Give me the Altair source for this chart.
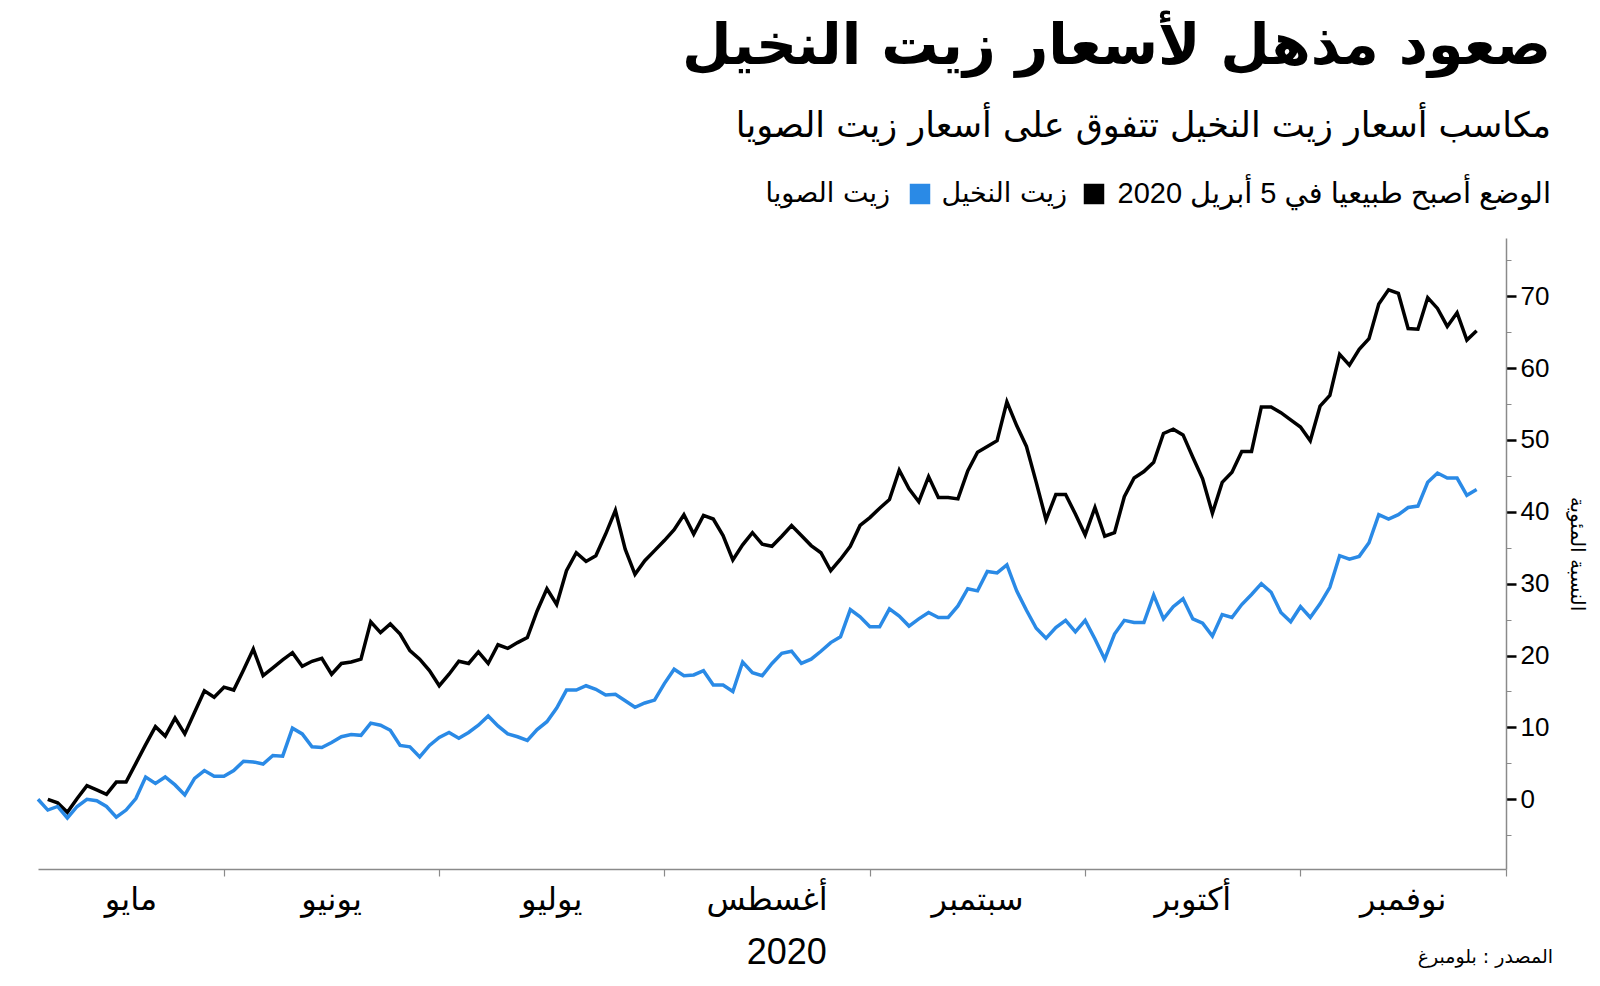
import altair as alt
import pandas as pd

# ---------------- data ----------------
# cumulative % change, one value per trading day; palm oil starts one day after soy oil
palm_start = 1
palm = [0.0, -0.5, -1.8, 0.1, 1.9, 1.3, 0.7, 2.4, 2.4, 5.0,
        7.6, 10.1, 8.8, 11.3, 9.1, 12.1, 15.1, 14.2, 15.6, 15.2,
        18.0, 20.9, 17.2, 18.3, 19.4, 20.4, 18.5, 19.2, 19.6, 17.4,
        18.9, 19.1, 19.5, 24.7, 23.2, 24.4, 23.0, 20.7, 19.5, 17.9,
        15.8, 17.4, 19.2, 18.9, 20.5, 18.9, 21.5, 21.0, 21.8, 22.5,
        26.2, 29.3, 27.1, 31.8, 34.3, 33.1, 33.9, 36.9, 40.2, 34.8,
        31.3, 33.2, 34.6, 36.0, 37.5, 39.6, 36.9, 39.5, 39.0, 36.7,
        33.3, 35.4, 37.1, 35.5, 35.2, 36.6, 38.1, 36.7, 35.3, 34.3,
        31.8, 33.4, 35.2, 38.1, 39.2, 40.5, 41.7, 45.8, 43.2, 41.4,
        44.9, 42.0, 42.0, 41.8, 45.7, 48.3, 49.1, 49.9, 55.3, 52.0,
        49.1, 44.1, 38.9, 42.4, 42.4, 39.7, 36.8, 40.6, 36.6, 37.1,
        42.1, 44.7, 45.6, 46.9, 50.9, 51.5, 50.7, 47.6, 44.6, 39.8,
        44.1, 45.5, 48.4, 48.4, 54.6, 54.6, 53.8, 52.8, 51.8, 49.9,
        54.7, 56.2, 61.9, 60.4, 62.6, 64.1, 68.9, 70.9, 70.4, 65.5,
        65.4, 69.8, 68.3, 65.8, 67.7, 63.9, 65.2]

soy_start = 0
soy = [0.0, -1.5, -1.0, -2.6, -1.0, 0.0, -0.2, -1.0, -2.5, -1.5,
       0.1, 3.1, 2.2, 3.1, 2.0, 0.6, 2.9, 4.0, 3.2, 3.2,
       4.0, 5.3, 5.2, 4.9, 6.1, 6.0, 9.9, 9.1, 7.3, 7.2,
       7.9, 8.7, 9.0, 8.9, 10.6, 10.3, 9.6, 7.5, 7.3, 5.9,
       7.5, 8.6, 9.3, 8.5, 9.3, 10.3, 11.6, 10.2, 9.1, 8.7,
       8.2, 9.7, 10.8, 12.7, 15.2, 15.2, 15.8, 15.3, 14.5, 14.6,
       13.7, 12.8, 13.4, 13.8, 16.1, 18.1, 17.2, 17.3, 17.9, 15.9,
       15.9, 15.0, 19.1, 17.6, 17.2, 18.9, 20.3, 20.6, 18.9, 19.5,
       20.6, 21.8, 22.6, 26.4, 25.4, 24.0, 24.0, 26.5, 25.5, 24.1,
       25.1, 26.0, 25.3, 25.3, 26.9, 29.3, 29.0, 31.7, 31.5, 32.6,
       29.0, 26.3, 23.8, 22.4, 23.9, 24.9, 23.3, 24.9, 22.3, 19.5,
       23.0, 24.9, 24.6, 24.6, 28.4, 25.1, 26.8, 27.9, 25.1, 24.5,
       22.7, 25.7, 25.3, 27.1, 28.5, 30.0, 28.8, 26.0, 24.7, 26.8,
       25.3, 27.2, 29.5, 33.9, 33.4, 33.8, 35.7, 39.6, 39.0, 39.6,
       40.6, 40.8, 44.1, 45.4, 44.7, 44.7, 42.3, 43.1]

series_names = ["زيت النخيل", "زيت الصويا"]
series_colors = ["#000000", "#2a8ae6"]

# month boundaries / label centres in trading-day index
month_bounds = [19, 41, 64, 85, 107, 129, 150]
month_names = ["مايو", "يونيو", "يوليو", "أغسطس", "سبتمبر", "أكتوبر", "نوفمبر"]
month_centers = [9.5, 30, 52.5, 74.5, 96, 118, 139.5]
year_label = ["2020"]
year_center = [76.5]
y_ticks = list(range(-5, 80, 5))

title_text = "صعود مذهل لأسعار زيت النخيل"
subtitle_text = "مكاسب أسعار زيت النخيل تتفوق على أسعار زيت الصويا"
legend_title = "الوضع أصبح طبيعيا في 5 أبريل 2020"
y_title = "النسبة المئوية"
source_text = "المصدر : بلومبرغ"

# ---------------- build ----------------
AR = "DejaVu Sans"
NUM = "Liberation Sans, DejaVu Sans"
W, H = 1468, 631

rows = []
for k, v in enumerate(palm):
    rows.append({"day": palm_start + k, "value": v, "series": series_names[0]})
for k, v in enumerate(soy):
    rows.append({"day": soy_start + k, "value": v, "series": series_names[1]})
df = pd.DataFrame(rows)

x_scale = alt.Scale(domain=[0, 150], nice=False, zero=False)
y_scale = alt.Scale(domain=[-9.7, 78.1], nice=False, zero=False)

x_axis = alt.Axis(values=month_bounds, labels=False, title=None, grid=False,
                  tickSize=7, tickColor="#8a8a8a", tickWidth=1.2,
                  domainColor="#8a8a8a", domainWidth=1.5)
y_axis = alt.Axis(orient="right", values=y_ticks, grid=False,
                  labelExpr="datum.value % 10 === 0 ? datum.label : ''",
                  tickSize={"condition": {"test": "datum.value % 10 === 0", "value": 10}, "value": 5},
                  tickWidth={"condition": {"test": "datum.value % 10 === 0", "value": 2.5}, "value": 1},
                  tickColor={"condition": {"test": "datum.value % 10 === 0", "value": "#000000"}, "value": "#8a8a8a"},
                  domainColor="#8a8a8a", domainWidth=1.5,
                  labelFont=NUM, labelFontSize=26, labelColor="black", labelPadding=4,
                  title=y_title, titleFont=AR, titleFontSize=20, titleFontWeight="normal",
                  titleColor="black", titleAngle=90, titleX=70, titleY=H / 2,
                  titleAlign="center", titleBaseline="middle")

lines = alt.Chart(df).mark_line(strokeWidth=3.5).encode(
    x=alt.X("day:Q", scale=x_scale, axis=x_axis),
    y=alt.Y("value:Q", scale=y_scale, axis=y_axis),
    color=alt.Color("series:N", scale=alt.Scale(domain=series_names, range=series_colors), legend=None),
)

months_df = pd.DataFrame({"day": month_centers, "name": month_names})
month_text = alt.Chart(months_df).mark_text(font=AR, fontSize=32, baseline="middle",
                                            align="center", color="black").encode(
    x=alt.X("day:Q", scale=x_scale, axis=x_axis),
    y=alt.value(H + 31),
    text="name:N",
)

year_df = pd.DataFrame({"day": year_center, "name": year_label})
year_text = alt.Chart(year_df).mark_text(font=NUM, fontSize=36, baseline="middle",
                                         align="center", color="black").encode(
    x=alt.X("day:Q", scale=x_scale, axis=x_axis),
    y=alt.value(H + 84),
    text="name:N",
)


def label(txt, x, y, size, font=AR, align="right"):
    return alt.Chart(pd.DataFrame({"t": [txt]})).mark_text(
        font=font, fontSize=size, align=align, baseline="middle", color="black"
    ).encode(x=alt.value(x), y=alt.value(y), text="t:N")


def swatch(color, x, y):
    return alt.Chart(pd.DataFrame({"t": [color]})).mark_square(
        size=420, opacity=1, filled=True, color=color, strokeWidth=0
    ).encode(x=alt.value(x), y=alt.value(y))


legend_layers = [
    label(legend_title, 1513, -44, 29, font=NUM),
    swatch(series_colors[0], 1056, -44),
    label(series_names[0], 1029, -44, 27),
    swatch(series_colors[1], 882, -44),
    label(series_names[1], 852, -44, 27),
    label(source_text, 1515, 719, 19),
]

chart = alt.layer(lines, month_text, year_text, *legend_layers).properties(
    width=W, height=H,
    padding={"left": 38, "top": 238, "right": 94, "bottom": 117},
    autosize=alt.AutoSizeParams(type="none"),
    background="white",
    title=alt.TitleParams(
        text=title_text, subtitle=subtitle_text, anchor="end", frame="group", dx=45,
        font=AR, fontSize=57, fontWeight="bold", color="black",
        subtitleFont=AR, subtitleFontSize=35, subtitleColor="black",
        subtitlePadding=33, offset=35,
    ),
).configure_view(stroke=None)

chart.save("out.html", embed_options={"renderer": "svg", "actions": False})
